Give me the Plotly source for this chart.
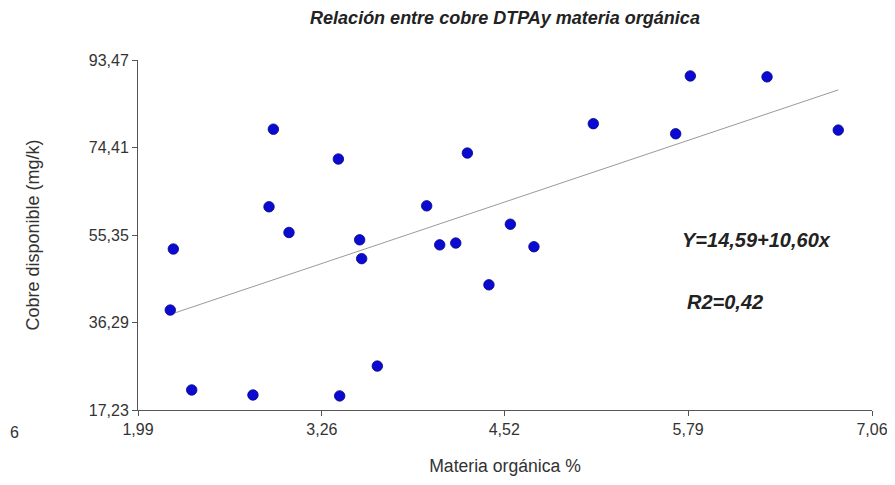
import plotly.graph_objects as go

# Data
materia_organica = [2.925, 3.374, 4.265, 2.895, 3.984, 3.033, 2.234, 3.521, 4.562, 4.074,
                    4.185, 4.725, 3.535, 4.414, 2.213, 3.643, 2.361, 2.784, 3.383, 5.805,
                    6.335, 5.135, 5.704, 6.827]
cobre_dtpa = [78.4, 71.9, 73.2, 61.5, 61.7, 55.9, 52.3, 54.3, 57.7, 53.2,
              53.6, 52.8, 50.2, 44.5, 39.0, 26.8, 21.6, 20.5, 20.3, 90.0,
              89.8, 79.6, 77.4, 78.2]
intercept = 14.59
slope = 10.60

x_ticks = [1.99, 3.26, 4.52, 5.79, 7.06]
x_tick_labels = ["1,99", "3,26", "4,52", "5,79", "7,06"]
y_ticks = [17.23, 36.29, 55.35, 74.41, 93.47]
y_tick_labels = ["17,23", "36,29", "55,35", "74,41", "93,47"]

x_min, x_max = min(materia_organica), max(materia_organica)
trend_x = [x_min, x_max]
trend_y = [intercept + slope * v for v in trend_x]

font_family = "Liberation Sans, Arial, sans-serif"

fig = go.Figure()
fig.add_trace(go.Scatter(
    x=trend_x, y=trend_y, mode="lines",
    line=dict(color="#9a9a9a", width=1),
    hoverinfo="skip", showlegend=False,
))
fig.add_trace(go.Scatter(
    x=materia_organica, y=cobre_dtpa, mode="markers",
    marker=dict(size=10.5, color="#0a0ad2", line=dict(color="#050580", width=0.8)),
    showlegend=False,
))

axis_common = dict(
    showgrid=False, zeroline=False, showline=True, linecolor="#555555", linewidth=1,
    ticks="outside", ticklen=5, tickcolor="#555555", tickwidth=1,
    tickfont=dict(family=font_family, size=16, color="#333333"),
    mirror=False, automargin=False, ticklabeloverflow="allow",
)

fig.update_xaxes(range=[1.99, 7.06], tickmode="array", tickvals=x_ticks, ticktext=x_tick_labels,
                 title=dict(text="Materia orgánica %", font=dict(family=font_family, size=17.6, color="#333333"), standoff=22),
                 **axis_common)
fig.update_yaxes(range=[17.23, 93.47], tickmode="array", tickvals=y_ticks, ticktext=y_tick_labels,
                 title=dict(text="Cobre disponible (mg/k)", font=dict(family=font_family, size=18, color="#333333"), standoff=44),
                 **axis_common)

fig.update_layout(
    width=887, height=469,
    margin=dict(l=130, r=23, t=52, b=67),
    paper_bgcolor="white", plot_bgcolor="white",
    title=dict(text="<b><i>Relación entre cobre DTPAy materia orgánica</i></b>",
               x=(505 - 8) / 887, xanchor="center", xref="container",
               y=1 - 10 / 469, yanchor="middle", yref="container",
               font=dict(family=font_family, size=18, color="#222222")),
    annotations=[
        dict(text="<b><i>Y=14,59+10,60x</i></b>", x=0.843, y=0.486, xref="paper", yref="paper",
             xanchor="center", yanchor="middle", showarrow=False,
             font=dict(family=font_family, size=20, color="#222222")),
        dict(text="<b><i>R2=0,42</i></b>", x=0.80, y=0.309, xref="paper", yref="paper",
             xanchor="center", yanchor="middle", showarrow=False,
             font=dict(family=font_family, size=20, color="#222222")),
        dict(text="6", x=-130 / 734, y=-0.063, xref="paper", yref="paper",
             xanchor="left", yanchor="middle", showarrow=False,
             font=dict(family=font_family, size=16, color="#333333")),
    ],
)

fig.write_html("out.html")
